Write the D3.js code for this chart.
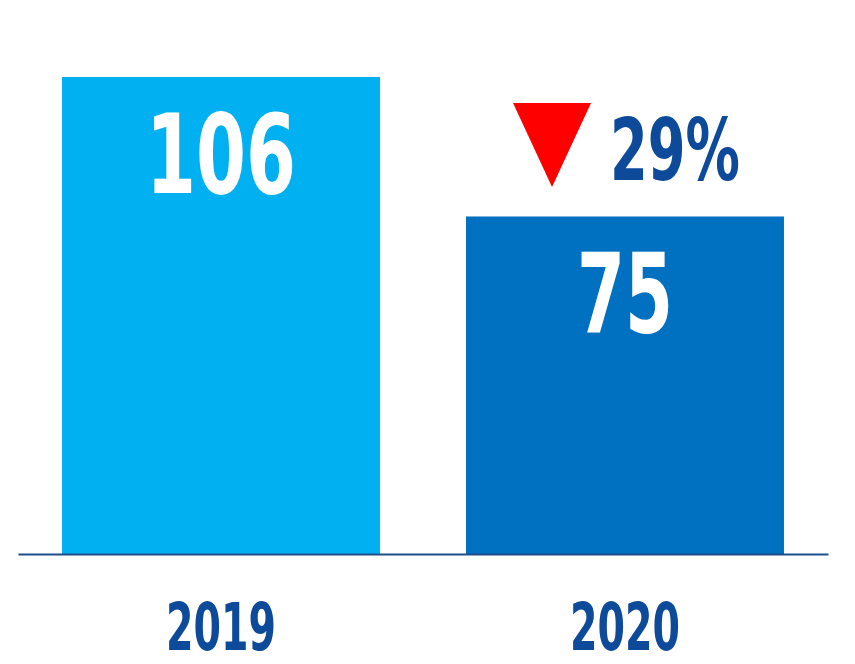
<!DOCTYPE html>
<html><head><meta charset="utf-8">
<script src="https://cdn.jsdelivr.net/npm/d3@7"></script>
<style>html,body{margin:0;padding:0;background:#fff;}svg{display:block;}</style>
</head><body>
<svg id="chart" width="855" height="664"></svg>
<script>
const categories = ["2019", "2020"];
const values = [106, 75];
const barColors = ["#00b0f0", "#0070c0"];
const changeLabel = "29%";

const W = 855, H = 664;
const svg = d3.select("#chart");
const font = "'Liberation Sans Narrow','DejaVu Sans Condensed','Arial Narrow',sans-serif";

const x = d3.scaleBand().domain(categories).range([18, 828]).paddingInner(0.213).paddingOuter(0.109);
const y = d3.scaleLinear().domain([0, 123.1]).range([554, 0]);

svg.selectAll("rect.bar").data(values).join("rect")
  .attr("class", "bar")
  .attr("x", (d, i) => x(categories[i]))
  .attr("width", x.bandwidth())
  .attr("y", d => y(d))
  .attr("height", d => y(0) - y(d))
  .attr("fill", (d, i) => barColors[i]);

// baseline axis
const axis = d3.axisBottom(x).tickSize(0).tickPadding(0);
const gx = svg.append("g").attr("transform", `translate(0,${y(0)})`).call(axis);
gx.select(".domain").attr("stroke", "#1f4e8c").attr("stroke-width", 2);
gx.selectAll(".tick text")
  .attr("y", 96)
  .attr("dy", 0)
  .attr("fill", "#0d4a9a")
  .attr("font-family", font)
  .attr("font-weight", "bold")
  .attr("font-size", 65)
  .attr("textLength", 110)
  .attr("lengthAdjust", "spacingAndGlyphs");

// value labels
svg.selectAll("text.val").data(values).join("text")
  .attr("class", "val")
  .attr("x", (d, i) => x(categories[i]) + x.bandwidth() / 2)
  .attr("y", d => y(d) + 116)
  .attr("text-anchor", "middle")
  .attr("fill", "#ffffff")
  .attr("font-family", font)
  .attr("font-weight", "bold")
  .attr("font-size", 111)
  .attr("textLength", (d, i) => i === 0 ? 150 : 96)
  .attr("lengthAdjust", "spacingAndGlyphs")
  .text(d => d);

// change indicator
const cx = x(categories[1]) + 86;
svg.append("path")
  .attr("d", `M${cx - 39},103 L${cx + 39},103 L${cx},187 Z`)
  .attr("fill", "#ff0000");
svg.append("text")
  .attr("x", 610)
  .attr("y", 180)
  .attr("fill", "#0d4a9a")
  .attr("font-family", font)
  .attr("font-weight", "bold")
  .attr("font-size", 85)
  .attr("textLength", 130)
  .attr("lengthAdjust", "spacingAndGlyphs")
  .text(changeLabel);
</script>
</body></html>
